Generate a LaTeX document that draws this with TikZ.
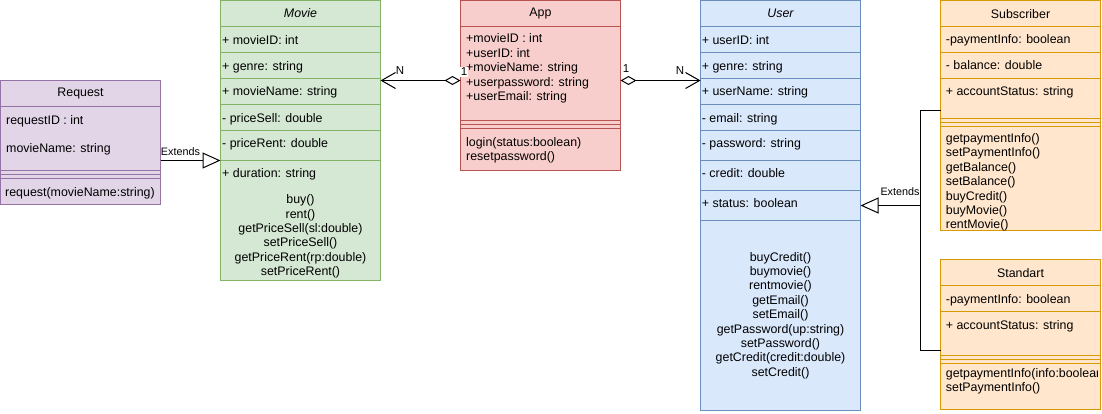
\documentclass[tikz,border=0pt]{standalone}
\usepackage{fontspec}
\setmainfont{Liberation Sans}
\usetikzlibrary{arrows.meta}
\definecolor{purF}{HTML}{E1D5E7}\definecolor{purS}{HTML}{9673A6}
\definecolor{grnF}{HTML}{D5E8D4}\definecolor{grnS}{HTML}{82B366}
\definecolor{redF}{HTML}{F8CECC}\definecolor{redS}{HTML}{B85450}
\definecolor{bluF}{HTML}{DAE8FC}\definecolor{bluS}{HTML}{6C8EBF}
\definecolor{orgF}{HTML}{FFE6CC}\definecolor{orgS}{HTML}{D79B00}
\newcommand{\bodyfont}{\fontsize{12.4}{14.4}\selectfont}
\begin{document}
\begin{tikzpicture}[x=1pt,y=-1pt,
  box/.style={draw, line width=1pt, inner sep=0pt, outer sep=0pt},
  sep/.style={line width=1pt},
  txt/.style={inner sep=0pt, anchor=base west, font=\bodyfont},
  ttl/.style={inner sep=0pt, anchor=center, font=\bodyfont},
  mth/.style={inner sep=0pt, align=center, font=\bodyfont},
  mthl/.style={inner sep=0pt, align=left, anchor=west, font=\bodyfont},
  lbl/.style={inner sep=0pt, font=\fontsize{10.8}{12}\selectfont},
  card/.style={inner sep=0pt, font=\fontsize{11.5}{12}\selectfont},
  conn/.style={line width=1pt, draw=black},
  ext/.style={conn, -{Triangle[length=18pt,width=16pt,fill=white]}},
  agg/.style={conn, {Diamond[length=16pt,width=9pt,fill=white]}-{Straight Barb[length=14pt,width=16pt]}},
]
\useasboundingbox (0,0) rectangle (1102,413);

% ---------- Request ----------
\node[box, fill=purF, draw=purS, minimum width=160pt, minimum height=124pt] (req) at (80.5,142.5) {};
\foreach \yy in {106.5,170.5,174.5,178.5} \draw[sep, purS] (0.5,\yy) -- (160.5,\yy);
\node[ttl] (reqT) at (80.5,93.5) {Request};
\node[txt] (reqA1) at (6,124.5) {requestID : int};
\node[txt] (reqA2) at (6,152.5) {movieName: string};
\node[txt] (reqM) at (5,196) {request(movieName:string)};

% ---------- Movie ----------
\node[box, fill=grnF, draw=grnS, minimum width=160pt, minimum height=280pt] (mov) at (300.5,140.5) {};
\foreach \yy in {26.5,52.5,78.5,104.5,130.5,160.5} \draw[sep, grnS] (220.5,\yy) -- (380.5,\yy);
\node[ttl, font=\bodyfont\itshape] (movT) at (300.5,13.5) {Movie};
\node[txt] (movA1) at (222,44) {+ movieID: int};
\node[txt] (movA2) at (222,70) {+ genre: string};
\node[txt] (movA3) at (222,95.7) {+ movieName: string};
\node[txt] (movA4) at (222,122) {- priceSell: double};
\node[txt] (movA5) at (222,147.3) {- priceRent: double};
\node[txt] (movA6) at (222,177.3) {+ duration: string};
\node[mth] (movM) at (300.5,236.5) {buy()\\rent()\\getPriceSell(sl:double)\\setPriceSell()\\getPriceRent(rp:double)\\setPriceRent()};

% ---------- App ----------
\node[box, fill=redF, draw=redS, minimum width=160pt, minimum height=170pt] (app) at (540.5,85.5) {};
\foreach \yy in {26.5,120.5,124.5,128.5} \draw[sep, redS] (460.5,\yy) -- (620.5,\yy);
\node[ttl] (appT) at (540.5,14) {App};
\node[mthl] (appA) at (466,68.5) {+movieID : int\\+userID: int\\+movieName: string\\+userpassword: string\\+userEmail: string};
\node[mthl] (appM) at (466,150.3) {login(status:boolean)\\resetpassword()};

% ---------- User ----------
\node[box, fill=bluF, draw=bluS, minimum width=160pt, minimum height=410pt] (usr) at (780.5,205.5) {};
\foreach \yy in {26.5,52.5,78.5,104.5,130.5,160.5,190.5,220.5} \draw[sep, bluS] (700.5,\yy) -- (860.5,\yy);
\node[ttl, font=\bodyfont\itshape] (usrT) at (780.5,13.5) {User};
\node[txt] (usrA1) at (701.7,44) {+ userID: int};
\node[txt] (usrA2) at (701.7,70.3) {+ genre: string};
\node[txt] (usrA3) at (701.7,95.7) {+ userName: string};
\node[txt] (usrA4) at (701.7,122) {- email: string};
\node[txt] (usrA5) at (701.7,147.7) {- password: string};
\node[txt] (usrA6) at (701.7,177.3) {- credit: double};
\node[txt] (usrA7) at (701.7,207.3) {+ status: boolean};
\node[mth] (usrM) at (780.5,315.5) {buyCredit()\\buymovie()\\rentmovie()\\getEmail()\\setEmail()\\getPassword(up:string)\\setPassword()\\getCredit(credit:double)\\setCredit()};

% ---------- Subscriber ----------
\node[box, fill=orgF, draw=orgS, minimum width=160pt, minimum height=230pt] (sub) at (1020.5,115.5) {};
\foreach \yy in {26.5,52.5,78.5,118.5,122.5,126.5} \draw[sep, orgS] (940.5,\yy) -- (1100.5,\yy);
\node[ttl] (subT) at (1020.5,14) {Subscriber};
\node[txt] (subA1) at (945.7,43.7) {-paymentInfo: boolean};
\node[txt] (subA2) at (945.7,69.7) {- balance: double};
\node[txt] (subA3) at (945.7,95.7) {+ accountStatus: string};
\node[mthl] (subM) at (945.7,182.5) {getpaymentInfo()\\setPaymentInfo()\\getBalance()\\setBalance()\\buyCredit()\\buyMovie()\\rentMovie()};

% ---------- Standart ----------
\node[box, fill=orgF, draw=orgS, minimum width=160pt, minimum height=150pt] (std) at (1020.5,334.5) {};
\foreach \yy in {285.5,311.5,355.5,359.5,363.5} \draw[sep, orgS] (940.5,\yy) -- (1100.5,\yy);
\node[ttl] (stdT) at (1020.5,272.7) {Standart};
\node[txt] (stdA1) at (945.7,303) {-paymentInfo: boolean};
\node[txt] (stdA2) at (945.7,329) {+ accountStatus: string};
\begin{scope}
  \clip (941,364) rectangle (1097,409);
  \node[mthl] (stdM) at (945.7,381) {getpaymentInfo(info:boolean)\\setPaymentInfo()};
\end{scope}

% ---------- connectors ----------
\draw[ext] ([yshift=-18pt]req.east) -- ([yshift=-18pt]req.east -| mov.west);
\draw[agg] ([yshift=5pt]app.west) -- ([yshift=5pt]app.west -| mov.east);
\draw[agg] ([yshift=5pt]app.east) -- ([yshift=5pt]app.east -| usr.west);
\coordinate (jn) at (920.5,205.5);
\draw[ext] ([yshift=5pt]sub.west) -| (jn) -- (jn -| usr.east);
\draw[conn] ([yshift=-16pt]std.west) -| (jn);

% ---------- labels ----------
\node[lbl] (lx1) at (180.5,151.5) {Extends};
\node[lbl] (lx2) at (900,191.5) {Extends};
\node[card] (lN1) at (400,71) {N};
\node[card, fill=white, inner sep=0.6pt] (l11) at (464,72) {1};
\node[card] (l12) at (626,68.5) {1};
\node[card] (lN2) at (680,70.5) {N};
\end{tikzpicture}
\end{document}
